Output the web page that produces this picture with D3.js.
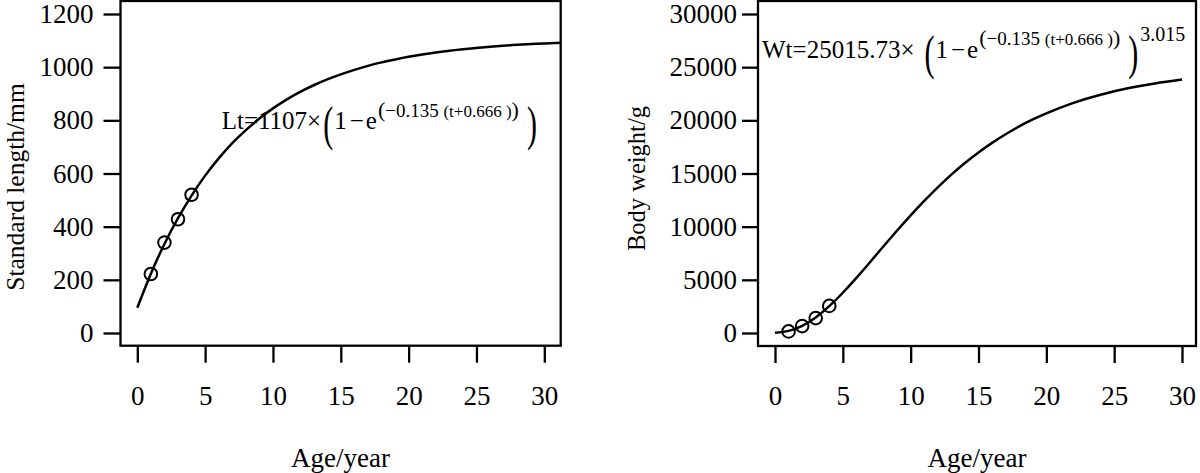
<!DOCTYPE html>
<html>
<head>
<meta charset="utf-8">
<script src="https://cdn.jsdelivr.net/npm/d3@7"></script>
<style>
  html, body { margin: 0; padding: 0; background: #fff; }
  svg { display: block; }
  text { font-family: "Liberation Serif", "Times New Roman", serif; fill: #000; }
</style>
</head>
<body>
<svg id="chart" width="1200" height="473"></svg>
<script>
// ---------------- data ----------------
const obsAges = [1, 2, 3, 4];
const lengthObs = [222, 340, 428, 520];
const weightObs = [150, 650, 1400, 2550];

const fitAgesL = [0,1,2,3,4,5,6,7,8,9,10,11,12,13,14,15,16,17,18,19,20,22,24,26,28,30,32];
const lengthFit = [95,223,335,432,517,592,657,714,763,807,845,878,907,932,954,973,990,1005,1018,1029,1039,1055,1067,1077,1084,1089,1093];

const fitAgesW = [0,1,2,3,4,5,6,7,8,9,10,11,12,13,14,15,16,17,18,19,20,22,24,26,28,30];
const weightFit = [15,199,679,1467,2524,3785,5185,6659,8158,9637,11068,12425,13704,14890,15983,16976,17879,18694,19425,20080,20663,21644,22411,23013,23473,23836];

const xTicks = [0, 5, 10, 15, 20, 25, 30];
const yTicksL = [0, 200, 400, 600, 800, 1000, 1200];
const yTicksW = [0, 5000, 10000, 15000, 20000, 25000, 30000];

const xTitle = "Age/year";
const yTitleL = "Standard length/mm";
const yTitleW = "Body weight/g";

// ---------------- layout ----------------
const svg = d3.select("#chart");
const TICKFONT = 27;

const panels = [
  {
    box: {x0: 120.5, x1: 560.7, y0: 1, y1: 345.7},
    x: d3.scaleLinear().domain([0, 30]).range([137.3, 544.3]),
    y: d3.scaleLinear().domain([0, 1200]).range([333, 14]),
    yTicks: yTicksL, tickSize: 17, tickPad: 10,
    fitX: fitAgesL, fitY: lengthFit, obsY: lengthObs,
    yTitle: yTitleL, yTitleX: 23.5, yTitleY: 187, yTitleSize: 25.5
  },
  {
    box: {x0: 758, x1: 1196, y0: 1, y1: 346},
    x: d3.scaleLinear().domain([0, 30]).range([775, 1182]),
    y: d3.scaleLinear().domain([0, 30000]).range([333, 14]),
    yTicks: yTicksW, tickSize: 16, tickPad: 5,
    fitX: fitAgesW, fitY: weightFit, obsY: weightObs,
    yTitle: yTitleW, yTitleX: 645, yTitleY: 178.5, yTitleSize: 24.5
  }
];

panels.forEach((p, i) => {
  const g = svg.append("g");
  const b = p.box;
  const clipId = "clip" + i;
  svg.append("clipPath").attr("id", clipId)
    .append("rect").attr("x", b.x0).attr("y", b.y0).attr("width", b.x1 - b.x0).attr("height", b.y1 - b.y0);

  // fitted curve
  const line = d3.line().x((d, k) => p.x(p.fitX[k])).y(d => p.y(d)).curve(d3.curveNatural);
  g.append("path").datum(p.fitY).attr("d", line)
    .attr("fill", "none").attr("stroke", "#000").attr("stroke-width", 2.5)
    .attr("clip-path", `url(#${clipId})`);

  // observed points
  g.selectAll("circle.obs").data(p.obsY).join("circle").attr("class", "obs")
    .attr("cx", (d, k) => p.x(obsAges[k])).attr("cy", d => p.y(d)).attr("r", 6.3)
    .attr("fill", "none").attr("stroke", "#000").attr("stroke-width", 2);

  // frame
  g.append("rect").attr("x", b.x0).attr("y", b.y0).attr("width", b.x1 - b.x0).attr("height", b.y1 - b.y0)
    .attr("fill", "none").attr("stroke", "#000").attr("stroke-width", 2.3);

  // y axis
  const ya = g.append("g").attr("transform", `translate(${b.x0},0)`)
    .call(d3.axisLeft(p.y).tickValues(p.yTicks).tickSize(p.tickSize).tickPadding(p.tickPad).tickFormat(d => String(d)));
  ya.select(".domain").remove();
  ya.selectAll("line").attr("stroke-width", 2.3);
  ya.selectAll("text").attr("font-size", TICKFONT).attr("font-family", null);

  // x axis
  const xa = g.append("g").attr("transform", `translate(0,${b.y1})`)
    .call(d3.axisBottom(p.x).tickValues(xTicks).tickSize(17).tickFormat(d => String(d)));
  xa.select(".domain").remove();
  xa.selectAll("line").attr("stroke-width", 2.3);
  xa.selectAll("text").attr("font-size", TICKFONT).attr("font-family", null).attr("y", 405 - b.y1).attr("dy", 0);

  // titles
  g.append("text").attr("x", (b.x0 + b.x1) / 2).attr("y", 467).attr("text-anchor", "middle")
    .attr("font-size", 27).text(xTitle);
  g.append("text").attr("transform", `translate(${p.yTitleX},${p.yTitleY}) rotate(-90)`)
    .attr("text-anchor", "middle").attr("font-size", p.yTitleSize).text(p.yTitle);
});

// ---------------- equations ----------------
function drawEquation(x0, base, parts) {
  const g = svg.append("g");
  let x = x0;
  parts.forEach(pt => {
    x += pt.gap || 0;
    let t;
    if (pt.big) {
      // stretched parenthesis (plotmath-like bgroup)
      t = g.append("text").attr("font-size", pt.size)
        .attr("transform", `translate(${x},${base + pt.shift}) scale(1,${pt.big})`).text(pt.t);
    } else {
      t = g.append("text").attr("x", x).attr("y", base - (pt.rise || 0)).attr("font-size", pt.size);
      pt.t.forEach(s => {
        const ts = t.append("tspan").attr("font-size", s[1]).text(s[0]);
        if (s[2]) ts.attr("dx", s[2]);
      });
    }
    x += t.node().getBBox().width;
  });
}

const supParts = [["(", 22], ["\u22120.135 ", 19], ["(t+0.666 )", 17], [")", 22]];
const oneMinusE = [["1", 25], ["\u2212", 25, 3], ["e", 25, 2]];

drawEquation(221.7, 129, [
  {t: [["Lt=1107\u00d7", 25]], size: 25},
  {t: "(", size: 30, big: 1.6, shift: 10.5, gap: 2},
  {t: oneMinusE, size: 25, gap: 1},
  {t: supParts, size: 19, rise: 12, gap: 1},
  {t: ")", size: 30, big: 1.6, shift: 10.5, gap: 8}
]);

drawEquation(762, 58, [
  {t: [["Wt=25015.73\u00d7", 25]], size: 25},
  {t: "(", size: 30, big: 1.6, shift: 10.5, gap: 10},
  {t: oneMinusE, size: 25, gap: 1},
  {t: supParts, size: 19, rise: 13, gap: 1},
  {t: ")", size: 30, big: 1.6, shift: 10.5, gap: 8},
  {t: [["3.015", 20]], size: 20, rise: 17, gap: 2}
]);
</script>
</body>
</html>
